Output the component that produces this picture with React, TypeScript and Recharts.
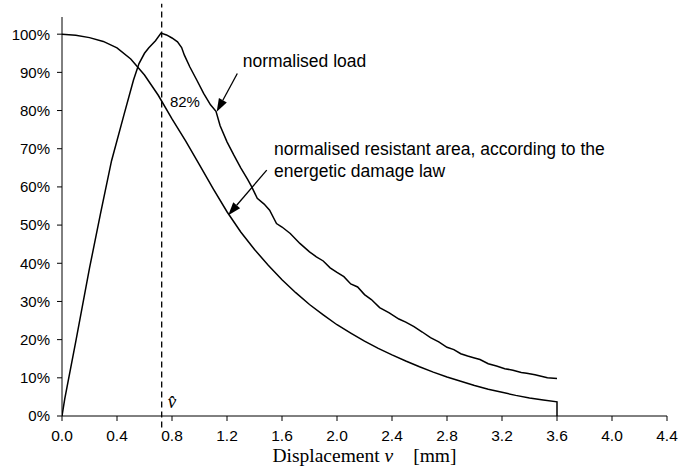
import { LineChart, Line, XAxis, YAxis, ReferenceLine, ReferenceDot } from "recharts";

// displacement [mm] / normalised value [%]
const loadDisp = [
  0, 0.02, 0.1, 0.2, 0.28, 0.36, 0.45, 0.52, 0.56, 0.6,
  0.63, 0.68, 0.72, 0.76, 0.8, 0.84, 0.87, 0.89, 0.93, 0.98,
  1.03, 1.08, 1.12, 1.15, 1.2, 1.25, 1.3, 1.35, 1.38, 1.42,
  1.47, 1.51, 1.56, 1.6, 1.66, 1.73, 1.8, 1.85, 1.9, 1.95,
  2.0, 2.05, 2.1, 2.15, 2.2, 2.25, 2.31, 2.38, 2.45, 2.5,
  2.56, 2.62, 2.68, 2.74, 2.8, 2.85, 2.9, 2.95, 3.0, 3.04,
  3.1, 3.16, 3.22, 3.28, 3.34, 3.38, 3.44, 3.5, 3.53, 3.6,
];
const loadPct = [
  0, 4.5, 19.5, 38.7, 53, 66.8, 78.8, 88, 92.3, 95,
  96.4, 98.3, 100.3, 99.8, 99.0, 98.0, 96.5, 94.5, 91.4, 88.0,
  84.5, 81.5, 79.8, 76.0, 71.8, 68.3, 65.0, 62.0, 60.0, 57.0,
  55.5, 53.9, 50.4, 49.5, 47.8, 45.2, 43.0, 41.7, 40.6, 38.8,
  37.6, 36.5, 34.6, 33.8, 31.8, 30.5, 28.4, 27.0, 25.4, 24.6,
  23.4, 22.0, 20.5, 19.4, 18.0, 17.4, 16.3, 15.7, 15.2, 14.8,
  13.7, 13.1, 12.4, 12.0, 11.4, 11.2, 10.8, 10.3, 10.0, 9.8,
];

const areaDisp = [
  0, 0.1, 0.2, 0.3, 0.4, 0.5, 0.6, 0.7, 0.8, 0.9,
  1.0, 1.1, 1.2, 1.3, 1.4, 1.5, 1.6, 1.7, 1.8, 1.9,
  2.0, 2.1, 2.2, 2.3, 2.4, 2.5, 2.6, 2.7, 2.8, 2.9,
  3.0, 3.1, 3.2, 3.3, 3.4, 3.5, 3.6, 3.6,
];
const areaPct = [
  100, 99.7, 99.1, 98.1, 96.4, 93.5, 89.3, 84.0, 77.8, 72.0,
  65.8, 59.5, 53.5, 48.2, 43.6, 39.5, 35.7, 32.3, 29.2, 26.5,
  23.9, 21.7, 19.6, 17.7, 16.0, 14.4, 12.9, 11.5, 10.2, 9.1,
  8.0, 7.0, 6.2, 5.4, 4.7, 4.2, 3.7, 0,
];

const xTicks = [0, 0.4, 0.8, 1.2, 1.6, 2.0, 2.4, 2.8, 3.2, 3.6, 4.0, 4.4];
const yTicks = [0, 10, 20, 30, 40, 50, 60, 70, 80, 90, 100];
const vHat = 0.725;

const loadData = loadDisp.map((x, i) => ({ x, y: loadPct[i] }));
const areaData = areaDisp.map((x, i) => ({ x, y: areaPct[i] }));

const SANS = "'Liberation Sans', Arial, sans-serif";
const SERIF = "'Liberation Serif', 'Times New Roman', serif";

const Arrow = (p: any) => {
  const { x1, y1, x2, y2 } = p;
  const dx = x2 - x1;
  const dy = y2 - y1;
  const len = Math.hypot(dx, dy) || 1;
  const ux = dx / len;
  const uy = dy / len;
  const hl = 13;
  const hw = 4.5;
  const bx = x2 - ux * hl;
  const by = y2 - uy * hl;
  return (
    <g>
      <line x1={x1} y1={y1} x2={bx} y2={by} stroke="#000" strokeWidth={1.3} />
      <polygon
        points={`${x2},${y2} ${bx - uy * hw},${by + ux * hw} ${bx + uy * hw},${by - ux * hw}`}
        fill="#000"
      />
    </g>
  );
};

const note = (lines: string[], size = 17.5) => (p: any) => (
  <text x={p.cx} y={p.cy} fontFamily={SANS} fontSize={size} fill="#000">
    {lines.map((t, i) => (
      <tspan key={i} x={p.cx} dy={i === 0 ? 0 : 22}>
        {t}
      </tspan>
    ))}
  </text>
);

const vHatLabel = (p: any) => (
  <text x={p.cx} y={p.cy} fontFamily={SERIF} fontStyle="italic" fontSize={19} fill="#000" textAnchor="middle">
    v̂
  </text>
);

const AxisTitle = (props: any) => {
  const { x, y, width } = props.viewBox;
  return (
    <text x={x + width / 2} y={y + 46} textAnchor="middle" fontFamily={SERIF} fontSize={19.5} fill="#000">
      <tspan>Displacement </tspan>
      <tspan fontStyle="italic">v</tspan>
      <tspan dx={20}>[mm]</tspan>
    </text>
  );
};

export default function App() {
  return (
    <div style={{ position: "absolute", left: 0, top: 0, background: "#fff" }}>
      <LineChart width={680} height={473} margin={{ top: 17, right: 13, bottom: 0, left: 0 }}>
        <XAxis
          dataKey="x"
          type="number"
          domain={[0, 4.4]}
          ticks={xTicks}
          tickFormatter={(v) => v.toFixed(1)}
          allowDataOverflow
          height={57}
          tickSize={5}
          tickMargin={9}
          stroke="#000"
          tick={{ fontSize: 15.5, fill: "#000", fontFamily: SANS }}
          label={<AxisTitle />}
        />
        <YAxis
          type="number"
          domain={[0, 104.5]}
          ticks={yTicks}
          tickFormatter={(v) => `${v}%`}
          allowDataOverflow
          width={62}
          tickSize={5}
          tickMargin={7}
          stroke="#000"
          tick={{ fontSize: 15, fill: "#000", fontFamily: SANS }}
        />
        <ReferenceLine
          segment={[{ x: vHat, y: -3 }, { x: vHat, y: 108 }]}
          stroke="#000"
          strokeWidth={1.3}
          strokeDasharray="6 4"
          ifOverflow="visible"
        />
        <Line data={loadData} dataKey="y" type="linear" stroke="#000" strokeWidth={1.5} dot={false} isAnimationActive={false} />
        <Line data={areaData} dataKey="y" type="linear" stroke="#000" strokeWidth={1.5} dot={false} isAnimationActive={false} />
        <ReferenceLine segment={[{ x: 1.275, y: 89.7 }, { x: 1.125, y: 79.7 }]} shape={Arrow} ifOverflow="visible" />
        <ReferenceLine segment={[{ x: 1.489, y: 64.4 }, { x: 1.209, y: 52.6 }]} shape={Arrow} ifOverflow="visible" />
        <ReferenceDot x={1.314} y={91.4} r={0} ifOverflow="visible" shape={note(["normalised load"])} />
        <ReferenceDot x={0.785} y={81} r={0} ifOverflow="visible" shape={note(["82%"], 15)} />
        <ReferenceDot
          x={1.542}
          y={68.3}
          r={0}
          ifOverflow="visible"
          shape={note(["normalised resistant area, according to the", "energetic damage law"])}
        />
        <ReferenceDot x={0.8} y={2} r={0} ifOverflow="visible" shape={vHatLabel} />
      </LineChart>
    </div>
  );
}
